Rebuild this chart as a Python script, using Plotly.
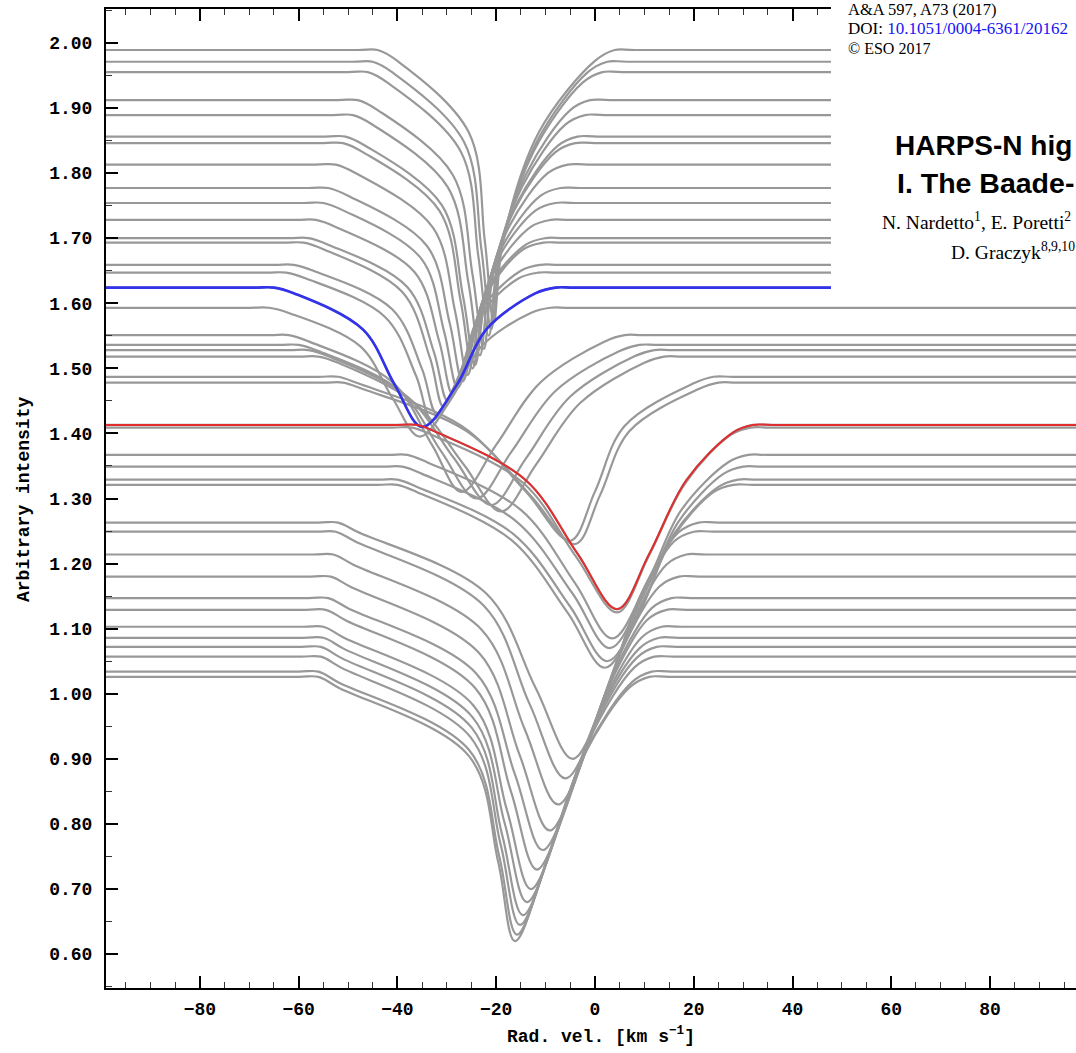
import plotly.graph_objects as go

# ---- data ----------------------------------------------------------------
# continuum level of each profile (top to bottom)
CONT = [1.989, 1.971, 1.955, 1.912, 1.889, 1.856, 1.846, 1.813, 1.777, 1.754,
        1.728, 1.700, 1.693, 1.659, 1.647, 1.624, 1.593, 1.551, 1.536, 1.528,
        1.518, 1.487, 1.478, 1.413, 1.409, 1.367, 1.349, 1.329, 1.321, 1.263,
        1.249, 1.214, 1.180, 1.147, 1.129, 1.103, 1.086, 1.072, 1.057, 1.034,
        1.026]
# intensity at line minimum
IMIN = [1.570, 1.560, 1.550, 1.530, 1.520, 1.505, 1.500, 1.490, 1.480, 1.470,
        1.460, 1.450, 1.440, 1.430, 1.420, 1.410, 1.395, 1.310, 1.300, 1.290,
        1.280, 1.235, 1.230, 1.130, 1.125, 1.085, 1.070, 1.050, 1.040, 0.900,
        0.870, 0.830, 0.790, 0.760, 0.730, 0.700, 0.680, 0.660, 0.645, 0.630,
        0.620]
# radial velocity of the minimum
VMIN = [-20.5, -21.0, -21.5, -22.5, -23.3, -24.3, -24.8, -25.8, -26.8, -27.8,
        -28.8, -29.8, -30.6, -32.0, -33.0, -35.0, -35.5, -27.0, -24.0, -21.0,
        -19.0, -5.0, -4.0, 4.5, 4.5, 3.5, 3.0, 2.5, 2.0, -4.5,
        -6.0, -7.5, -9.2, -10.6, -11.8, -13.0, -13.8, -14.6, -15.2, -15.8,
        -16.2]
# blue wing: velocity where the profile leaves the continuum, 30 % and 70 % depth
V_L0 = [-40.0, -41.0, -42.0, -44.0, -45.0, -46.5, -47.0, -48.5, -50.0, -51.0,
        -52.5, -54.0, -55.0, -57.0, -58.5, -61.0, -62.0, -58.0, -56.0, -54.0,
        -52.0, -48.0, -47.0, -32.0, -33.0, -34.0, -35.0, -36.0, -36.0, -48.0,
        -48.5, -49.0, -49.5, -50.0, -50.5, -51.0, -51.0, -51.5, -51.5, -52.0,
        -52.0]
V_L30 = [-25.6, -26.5, -27.2, -28.8, -29.8, -31.0, -31.5, -32.8, -34.0, -35.2,
         -36.5, -38.0, -39.0, -41.0, -42.5, -47.0, -47.5, -41.0, -39.5, -38.0,
         -36.5, -27.0, -26.0, -14.0, -14.5, -15.0, -16.0, -16.5, -17.0, -22.0,
         -22.5, -23.0, -23.5, -24.0, -24.3, -24.6, -24.8, -25.0, -25.2, -25.4,
         -25.5]
V_L70 = [-22.3, -23.0, -23.6, -24.8, -25.6, -26.7, -27.2, -28.3, -29.4, -30.5,
         -31.5, -32.6, -33.4, -35.0, -36.2, -40.5, -41.0, -33.0, -31.0, -28.5,
         -26.5, -14.0, -13.0, -3.5, -3.8, -4.0, -4.5, -5.0, -5.5, -12.0,
         -13.2, -14.2, -15.3, -16.2, -17.0, -17.8, -18.3, -18.8, -19.1, -19.4,
         -19.6]
# red wing: 70 % depth, 30 % depth, back to continuum
V_R70 = [-18.6, -19.0, -19.5, -20.6, -21.2, -22.1, -22.4, -23.1, -23.9, -24.5,
         -25.2, -25.8, -26.2, -27.0, -27.5, -28.0, -29.0, -20.0, -17.0, -14.0,
         -12.0, 0.0, 1.0, 11.0, 10.8, 10.5, 10.0, 9.5, 9.0, 2.6,
         1.5, -0.3, -2.1, -3.6, -4.8, -6.1, -7.0, -7.9, -8.6, -9.4,
         -9.8]
V_R30 = [-11.3, -11.8, -12.4, -14.0, -14.8, -16.0, -16.4, -17.5, -18.7, -19.6,
         -20.5, -21.5, -21.8, -23.0, -23.5, -22.0, -23.0, -11.0, -8.0, -5.0,
         -3.0, 6.0, 7.0, 18.5, 18.3, 17.5, 17.0, 16.0, 15.5, 9.4,
         8.5, 6.9, 5.2, 3.7, 2.7, 1.4, 0.5, -0.2, -0.9, -1.8,
         -2.3]
V_R0 = [0.0, -1.5, -2.5, -5.0, -6.0, -7.5, -8.0, -9.5, -11.0, -12.0,
        -13.0, -14.0, -14.5, -15.0, -15.5, -12.0, -13.0, 2.0, 5.0, 8.0,
        10.0, 20.0, 21.0, 28.0, 27.5, 27.0, 26.0, 25.0, 24.0, 17.0,
        16.0, 14.5, 13.0, 11.5, 10.5, 9.5, 9.0, 8.5, 8.0, 7.5,
        7.0]
VEL_LIMITS = [-100.0, 100.0]
BLUE_PROFILE = 15
RED_PROFILE = 23

X_TICKS = [-80, -60, -40, -20, 0, 20, 40, 60, 80]
Y_TICKS = [0.60, 0.70, 0.80, 0.90, 1.00, 1.10, 1.20, 1.30, 1.40, 1.50,
           1.60, 1.70, 1.80, 1.90, 2.00]

# ---- figure ---------------------------------------------------------------
GRAY = "rgb(152,152,152)"
KNEE = 4.0        # short flat stretch that keeps the spline on the continuum
EDGE_FRAC = 0.04  # the "leaves continuum" points sit at 4 % of the depth


def profile(i):
    c, m = CONT[i], IMIN[i]
    d = c - m
    e = c - EDGE_FRAC * d
    xs = [VEL_LIMITS[0], V_L0[i] - 2 * KNEE, V_L0[i] - KNEE, V_L0[i],
          V_L30[i], V_L70[i], VMIN[i], V_R70[i], V_R30[i],
          V_R0[i], V_R0[i] + KNEE, V_R0[i] + 2 * KNEE, VEL_LIMITS[1]]
    ys = [c, c, c, e, c - 0.3 * d, c - 0.7 * d, m, c - 0.7 * d, c - 0.3 * d,
          e, c, c, c]
    return xs, ys


fig = go.Figure()
for i in range(len(CONT)):
    xs, ys = profile(i)
    fig.add_trace(go.Scatter(x=xs, y=ys, mode="lines",
                             line=dict(color=GRAY, width=2.2, shape="spline",
                                       smoothing=1.0, simplify=False),
                             hoverinfo="skip", showlegend=False))

for idx, col, w in [(BLUE_PROFILE, "rgb(50,50,235)", 2.6),
                    (RED_PROFILE, "rgb(225,45,45)", 2.0)]:
    xs, ys = profile(idx)
    fig.add_trace(go.Scatter(x=xs, y=ys, mode="lines",
                             line=dict(color=col, width=w, shape="spline",
                                       smoothing=1.0, simplify=False),
                             hoverinfo="skip", showlegend=False))

TICK_FONT = dict(family="Liberation Mono", size=18, color="black", weight="bold")

fig.update_layout(
    width=1076, height=1053,
    margin=dict(l=106, r=0, t=9, b=65),
    paper_bgcolor="white", plot_bgcolor="white",
    font=dict(family="Liberation Mono", size=18, color="black"),
    xaxis=dict(range=[-99.0, 97.4], tickvals=X_TICKS,
               ticktext=[("\u2212%d" % -v) if v < 0 else str(v) for v in X_TICKS],
               ticks="inside", ticklen=12, tickwidth=1.6, tickcolor="black",
               minor=dict(dtick=5, tick0=0, ticks="inside", ticklen=6,
                          tickwidth=1.4, tickcolor="#333"),
               showline=True, linewidth=2, linecolor="black", mirror="ticks",
               showgrid=False, zeroline=False, tickfont=TICK_FONT,
               ticklabelstandoff=3),
    yaxis=dict(range=[0.548, 2.052], tickvals=Y_TICKS,
               ticktext=["%.2f" % v for v in Y_TICKS],
               ticks="inside", ticklen=12, tickwidth=1.6, tickcolor="black",
               minor=dict(dtick=0.05, tick0=0, ticks="inside", ticklen=6,
                          tickwidth=1.4, tickcolor="#333"),
               showline=True, linewidth=2, linecolor="black", mirror=False,
               showgrid=False, zeroline=False, tickfont=TICK_FONT,
               ticklabelstandoff=8),
)

# white header block of the page that overlaps the top-right of the plot
fig.add_shape(type="rect", xref="paper", yref="paper",
              x0=0.7474, x1=1.01, y0=0.7068, y1=1.02,
              fillcolor="white", line=dict(width=0), layer="above")


def px_x(px):
    return (px - 106) / 970.0


def px_y(py):
    return (988 - py) / 979.0


SERIF = "Liberation Serif"
head = [
    ("A&A 597, A73 (2017)", 846, 9, SERIF, 16.5),
    ("DOI: <span style='color:rgb(20,20,245)'>10.1051/0004-6361/20162</span>", 846, 29, SERIF, 17),
    ("\u00a9 ESO 2017", 846, 49, SERIF, 16),
    ("<b>HARPS-N hig</b>", 893, 145, "Liberation Sans", 28),
    ("<b>I. The Baade-</b>", 895, 183, "Liberation Sans", 28.5),
    ("N. Nardetto<sup>1</sup>, E. Poretti<sup>2</sup>", 880, 221, SERIF, 19.5),
    ("D. Graczyk<sup>8,9,10</sup>", 949, 251, SERIF, 19.5),
]
for txt, x, y, fam, size in head:
    fig.add_annotation(text=txt, xref="paper", yref="paper", x=px_x(x), y=px_y(y),
                       xanchor="left", yanchor="middle", showarrow=False,
                       font=dict(family=fam, size=size, color="black"))

# axis titles
fig.add_annotation(text="Rad. vel. [km s<sup>\u22121</sup>]", xref="paper", yref="paper",
                   x=px_x(601), y=px_y(1035), xanchor="center", yanchor="middle",
                   showarrow=False,
                   font=dict(family="Liberation Mono", size=18, color="black", weight="bold"))
fig.add_annotation(text="Arbitrary intensity", xref="paper", yref="paper",
                   x=px_x(24), y=px_y(500), xanchor="center", yanchor="middle",
                   textangle=-90, showarrow=False,
                   font=dict(family="Liberation Mono", size=18, color="black", weight="bold"))

fig.write_html("out.html")
